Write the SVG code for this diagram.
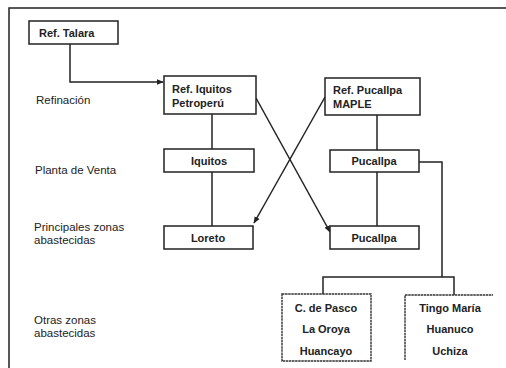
<svg xmlns="http://www.w3.org/2000/svg" width="506" height="368" viewBox="0 0 506 368">
<defs>
<style>
.box{fill:#fff;stroke:#222;stroke-width:1.5}
.dbox{fill:none;stroke:#333;stroke-width:1.4;stroke-dasharray:2.5 0.6}
.ln{fill:none;stroke:#222;stroke-width:1.5}
.t{font-family:"Liberation Sans",Arial,sans-serif;font-size:11px;font-weight:bold;fill:#222}
.c{text-anchor:middle}
.lbl{font-family:"Liberation Sans",Arial,sans-serif;font-size:11.5px;fill:#222}
</style>
<marker id="ah" viewBox="0 0 10 10" refX="9" refY="5" markerWidth="7" markerHeight="7" markerUnits="userSpaceOnUse" orient="auto">
<path d="M0,1 L10,5 L0,9 z" fill="#222"/>
</marker>
</defs>
<rect width="506" height="368" fill="#fff"/>
<path class="ln" d="M9,368 V8 H506"/>
<g id="labels">
<text class="lbl" x="36" y="104">Refinación</text>
<text class="lbl" x="35" y="174">Planta de Venta</text>
<text class="lbl" x="34" y="231">Principales zonas</text>
<text class="lbl" x="34" y="244">abastecidas</text>
<text class="lbl" x="34" y="324">Otras zonas</text>
<text class="lbl" x="34" y="337">abastecidas</text>
</g>
<g id="connectors">
<path class="ln" d="M70,44 V82 H163" marker-end="url(#ah)"/>
<path class="ln" d="M212,114 V149"/>
<path class="ln" d="M212,172 V226"/>
<path class="ln" d="M377,115 V150"/>
<path class="ln" d="M377,172 V226"/>
<path class="ln" d="M419,162 H442 V277"/>
<path class="ln" d="M323,294 V277 H454 V295"/>
<path class="ln" d="M256,98 L330,232" marker-end="url(#ah)"/>
<path class="ln" d="M325,97 L254,223" marker-end="url(#ah)"/>
</g>
<g id="talara">
<rect class="box" x="29" y="21" width="89" height="23"/>
<text class="t" x="39" y="37">Ref. Talara</text>
</g>
<g id="ref-iquitos">
<rect class="box" x="164" y="76" width="92" height="38"/>
<text class="t" x="172" y="93">Ref. Iquitos</text>
<text class="t" x="172" y="107">Petroperú</text>
</g>
<g id="ref-pucallpa">
<rect class="box" x="325" y="78" width="95" height="37"/>
<text class="t" x="333" y="94">Ref. Pucallpa</text>
<text class="t" x="333" y="108">MAPLE</text>
</g>
<g id="iquitos">
<rect class="box" x="164" y="149" width="90" height="23"/>
<text class="t c" x="209" y="165">Iquitos</text>
</g>
<g id="pucallpa-venta">
<rect class="box" x="330" y="150" width="89" height="22"/>
<text class="t c" x="374" y="165">Pucallpa</text>
</g>
<g id="loreto">
<rect class="box" x="164" y="226" width="89" height="23"/>
<text class="t c" x="208" y="242">Loreto</text>
</g>
<g id="pucallpa-zona">
<rect class="box" x="330" y="226" width="89" height="23"/>
<text class="t c" x="374" y="242">Pucallpa</text>
</g>
<g id="cdepasco">
<rect class="dbox" x="282" y="294" width="89" height="67"/>
<text class="t c" x="326" y="312">C. de Pasco</text>
<text class="t c" x="326" y="333">La Oroya</text>
<text class="t c" x="326" y="355">Huancayo</text>
</g>
<g id="tingo">
<path class="dbox" d="M405,360 V295 H493"/>
<text class="t c" x="450" y="312">Tingo María</text>
<text class="t c" x="450" y="333">Huanuco</text>
<text class="t c" x="450" y="355">Uchiza</text>
</g>
</svg>
